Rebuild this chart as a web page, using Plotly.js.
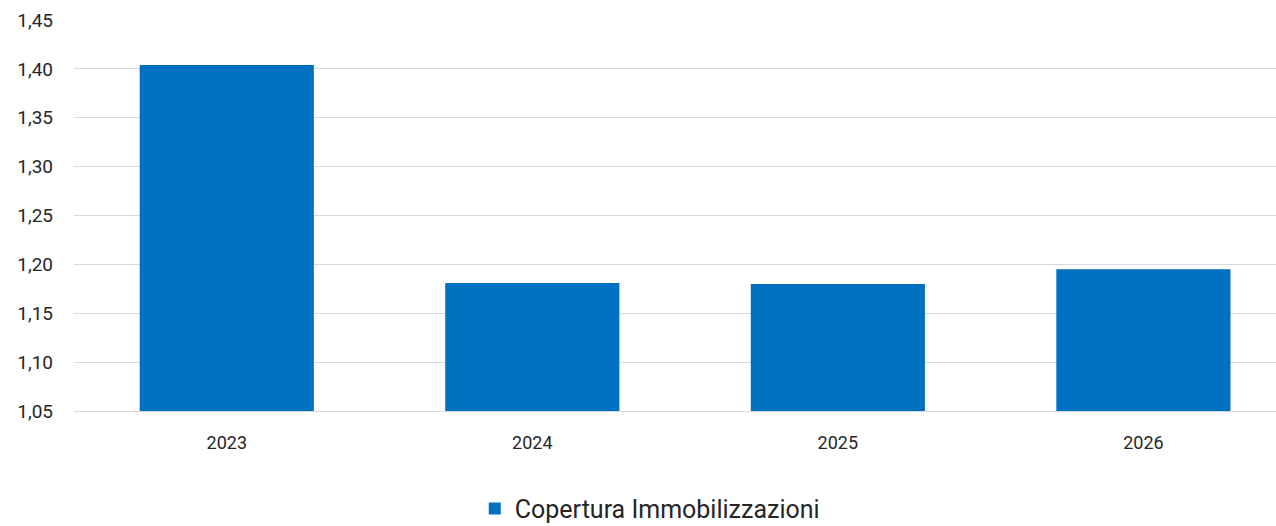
<!DOCTYPE html>
<html>
<head>
<meta charset="utf-8">
<script src="https://cdn.plot.ly/plotly-3.0.1.min.js"></script>
<style>html,body{margin:0;padding:0;background:#fff;}#chart{width:1276px;height:526px;}</style>
</head>
<body>
<div id="chart"></div>
<script>
const categories = ["2023", "2024", "2025", "2026"];
const values = [1.404, 1.181, 1.180, 1.195];
const seriesName = "Copertura Immobilizzazioni";
const yTicks = [1.05, 1.10, 1.15, 1.20, 1.25, 1.30, 1.35, 1.40, 1.45];

const trace = {
  type: "bar",
  x: [0, 1, 2, 3],
  y: values,
  name: seriesName,
  width: 0.57,
  marker: {color: "#0070C0", line: {width: 0}},
  showlegend: true,
  hoverinfo: "skip"
};

const layout = {
  width: 1276, height: 526,
  margin: {l: 74, r: 0, t: 20, b: 115, pad: 0},
  paper_bgcolor: "#ffffff", plot_bgcolor: "#ffffff",
  separators: ",.",
  font: {family: "Roboto, Arial, sans-serif", color: "#262626"},
  xaxis: {
    range: [-0.5, 3.434],
    tickvals: [0, 1, 2, 3],
    ticktext: categories,
    showgrid: false, zeroline: false,
    showline: true, linecolor: "#d9d9d9", linewidth: 1,
    ticks: "", ticklabelstandoff: 15,
    tickfont: {size: 18, color: "#262626"},
    fixedrange: true
  },
  yaxis: {
    range: [1.05, 1.45],
    tickvals: yTicks,
    tickformat: ".2f",
    showgrid: true, gridcolor: "#d9d9d9", gridwidth: 1,
    zeroline: false, showline: false,
    ticks: "", ticklabelstandoff: 20,
    tickfont: {size: 19, color: "#262626"},
    fixedrange: true
  },
  showlegend: true,
  legend: {
    orientation: "h",
    x: 0.479, xanchor: "center",
    y: 0.033, yanchor: "middle", yref: "container",
    font: {size: 25, color: "#262626"},
    itemwidth: 30
  }
};

Plotly.newPlot("chart", [trace], layout, {displayModeBar: false, staticPlot: true});
</script>
</body>
</html>
